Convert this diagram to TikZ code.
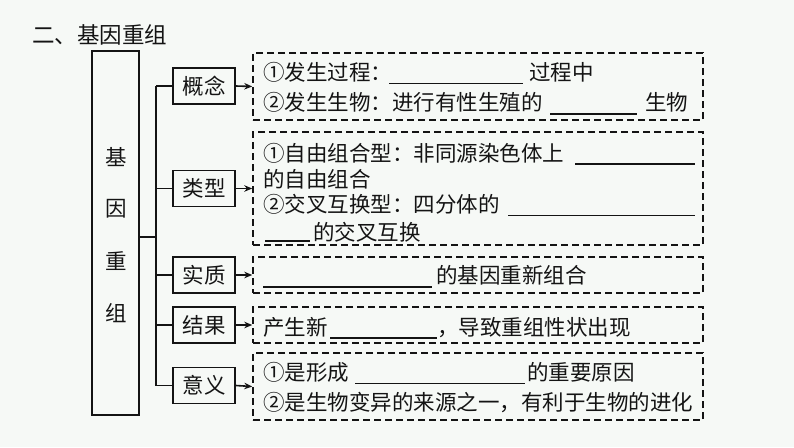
\documentclass[tikz,border=0pt]{standalone}
\usepackage{fontspec}
\setmainfont{Noto Sans CJK SC}
\usetikzlibrary{arrows.meta}
\definecolor{bgc}{RGB}{246,249,246}
\definecolor{ink}{RGB}{20,20,20}
\tikzset{
  txt/.style={anchor=base west, inner sep=0pt, font=\fontsize{21.5}{21.5}\selectfont, text=ink},
  lbl/.style={draw=ink, line width=1.6pt, minimum width=62pt, minimum height=36pt, inner sep=0pt, font=\fontsize{21.5}{21.5}\selectfont, text=ink},
  dbox/.style={draw=ink, line width=1.5pt, dash pattern=on 7pt off 4pt, minimum width=450pt, inner sep=0pt},
  blank/.style={draw=ink, line width=1.4pt},
  conn/.style={draw=ink, line width=1.6pt},
  arr/.style={draw=ink, line width=1.6pt, -{Stealth[length=8pt,width=6.5pt]}},
}
\begin{document}
\begin{tikzpicture}[x=1pt,y=-1pt]
\useasboundingbox[fill=bgc] (0,0) rectangle (794,447);
% title
\node[txt, font=\fontsize{22.5}{22.5}\selectfont] (title) at (32,43) {二、基因重组};
% main box
\node[draw=ink, line width=1.6pt, minimum width=47pt, minimum height=364pt, inner sep=0pt] (main) at (115.5,233) {};
\node[txt, anchor=center] (m1) at (116,157) {基};
\node[txt, anchor=center] (m2) at (116,209) {因};
\node[txt, anchor=center] (m3) at (116,261) {重};
\node[txt, anchor=center] (m4) at (116,313) {组};
% label boxes
\node[lbl] (c1) at (204,86) {概念};
\node[lbl] (c2) at (204,188.5) {类型};
\node[lbl] (c3) at (204,275) {实质};
\node[lbl] (c4) at (204,325) {结果};
\node[lbl] (c5) at (204,385.5) {意义};
% connectors
\coordinate (j) at (156,237);
\draw[conn] (main.east |- j) -- (j);
\draw[conn] (j |- c1) -- (j |- c5);
\foreach \n in {c1,c2,c3,c4,c5} { \draw[conn] (j |- \n) -- (\n.west); }
% dashed boxes
\node[dbox, minimum height=67pt] (d1) at (478,86.5) {};
\node[dbox, minimum height=113pt] (d2) at (478,188.5) {};
\node[dbox, minimum height=36pt] (d3) at (478,275) {};
\node[dbox, minimum height=36pt] (d4) at (478,325) {};
\node[dbox, minimum height=67pt] (d5) at (478,386.5) {};
\draw[arr] (c1.east) -- (d1.west);
\draw[arr] (c2.east) -- (d2.west);
\draw[arr] (c3.east) -- (d3.west);
\draw[arr] (c4.east) -- (d4.west);
\draw[arr] (c5.east) -- (d5.west);
% d1 text
\node[txt] (t11) at (263,80) {①发生过程：};
\draw[blank] (389,83.5) -- (523,83.5);
\node[txt] (t12) at (529,80) {过程中};
\node[txt] (t13) at (263,110) {②发生生物：进行有性生殖的};
\draw[blank] (550,114) -- (637,114);
\node[txt] (t14) at (645,110) {生物};
% d2 text
\node[txt] (t21) at (263,161) {①自由组合型：非同源染色体上};
\draw[blank] (575,164) -- (695,164);
\node[txt] (t22) at (263,187) {的自由组合};
\node[txt] (t23) at (263,212) {②交叉互换型：四分体的};
\draw[blank] (508,215.5) -- (695,215.5);
\draw[blank] (265,241) -- (310,241);
\node[txt] (t24) at (313,240) {的交叉互换};
% d3 text
\draw[blank] (263,287) -- (432,287);
\node[txt] (t31) at (436,283) {的基因重新组合};
% d4 text
\node[txt] (t41) at (263,335) {产生新};
\draw[blank] (330,338) -- (437,338);
\node[txt] (t42) at (437,335) {，导致重组性状出现};
% d5 text
\node[txt] (t51) at (263,380) {①是形成};
\draw[blank] (355,383.5) -- (525,383.5);
\node[txt] (t52) at (527,380) {的重要原因};
\node[txt] (t53) at (263,410) {②是生物变异的来源之一，有利于生物的进化};
\end{tikzpicture}
\end{document}
